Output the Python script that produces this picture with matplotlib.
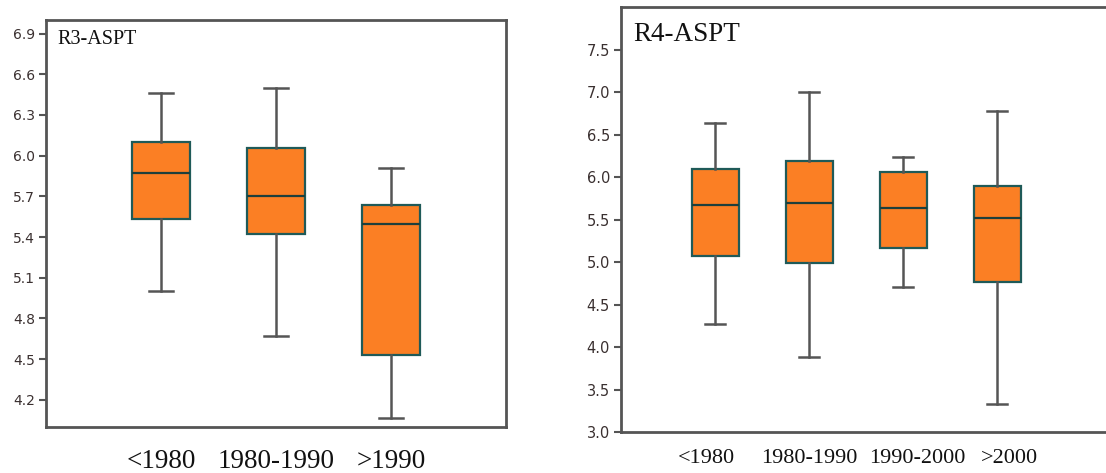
import matplotlib.pyplot as plt

# R3 and R4 ASPT summaries per period (whisker low, Q1, median, Q3, whisker high)
r3_groups = ["<1980", "1980-1990", ">1990"]
r3_low = [5.00, 4.67, 4.07]
r3_q1 = [5.53, 5.42, 4.53]
r3_med = [5.87, 5.70, 5.50]
r3_q3 = [6.10, 6.06, 5.64]
r3_high = [6.46, 6.50, 5.91]
r3_yticks = [4.2, 4.5, 4.8, 5.1, 5.4, 5.7, 6.0, 6.3, 6.6, 6.9]

r4_groups = ["<1980", "1980-1990", "1990-2000", ">2000"]
r4_low = [4.27, 3.88, 4.71, 3.33]
r4_q1 = [5.07, 4.99, 5.16, 4.77]
r4_med = [5.67, 5.70, 5.64, 5.52]
r4_q3 = [6.09, 6.19, 6.06, 5.89]
r4_high = [6.64, 7.00, 6.24, 6.78]
r4_yticks = [3.0, 3.5, 4.0, 4.5, 5.0, 5.5, 6.0, 6.5, 7.0, 7.5]

fill = "#fb7f24"
edge = "#1f5a58"
whisk = "#555555"
frame = "#555555"


def stats_of(low, q1, med, q3, high):
    return [dict(whislo=a, q1=b, med=c, q3=d, whishi=e, fliers=[])
            for a, b, c, d, e in zip(low, q1, med, q3, high)]


def draw(ax, stats, groups, yticks, ylim, xlim, title, ty, tsize, lsize, ldrop,
         ysize, nudge=None):
    pos = list(range(1, len(groups) + 1))
    ax.bxp(stats, positions=pos, widths=0.5, capwidths=0.21, patch_artist=True,
           showfliers=False,
           boxprops=dict(facecolor=fill, edgecolor=edge, linewidth=1.6),
           medianprops=dict(color="#1d3f3c", linewidth=1.6),
           whiskerprops=dict(color=whisk, linewidth=1.8),
           capprops=dict(color=whisk, linewidth=1.8))
    ax.set_xlim(*xlim)
    ax.set_ylim(*ylim)
    ax.set_yticks(yticks)
    ax.set_yticklabels([f"{v:.1f}" for v in yticks])
    ax.set_xticks([])
    # category names under the boxes, the crowded ones spread a little apart
    if nudge is None:
        nudge = [0] * len(groups)
    for p, g, dx in zip(pos, groups, nudge):
        ax.annotate(g, (p, 0), xycoords=ax.get_xaxis_transform(),
                    xytext=(dx, -ldrop), textcoords="offset points",
                    ha="center", va="top", family="Liberation Serif",
                    fontsize=lsize, color="#111111", annotation_clip=False)
    ax.tick_params(axis="y", length=5, width=1.5, color=frame,
                   labelsize=ysize, labelcolor="#3a3030", pad=3)
    for s in ax.spines.values():
        s.set_color(frame)
        s.set_linewidth(2)
    ax.text(0.025, ty, title, transform=ax.transAxes, ha="left", va="top",
            family="Liberation Serif", fontsize=tsize, color="#111111")


fig = plt.figure(figsize=(11.06, 4.73), dpi=100)
W, H = 1106, 473

ax1 = fig.add_axes([46 / W, 1 - 427 / H, 460 / W, 407 / H])
draw(ax1, stats_of(r3_low, r3_q1, r3_med, r3_q3, r3_high), r3_groups,
     r3_yticks, (4.0, 7.0), (0, 4), "R3-ASPT", 0.975, 14.5, 19.5, 15.5, 10)

ax2 = fig.add_axes([621 / W, 1 - 432 / H, 489 / W, 425 / H])
draw(ax2, stats_of(r4_low, r4_q1, r4_med, r4_q3, r4_high), r4_groups,
     r4_yticks, (3.0, 8.0), (0, 5.2), "R4-ASPT", 0.965, 19.5, 16, 12.5, 10.5,
     nudge=[-6, 0, 10, 9])

fig.savefig("out.png", dpi=100)
